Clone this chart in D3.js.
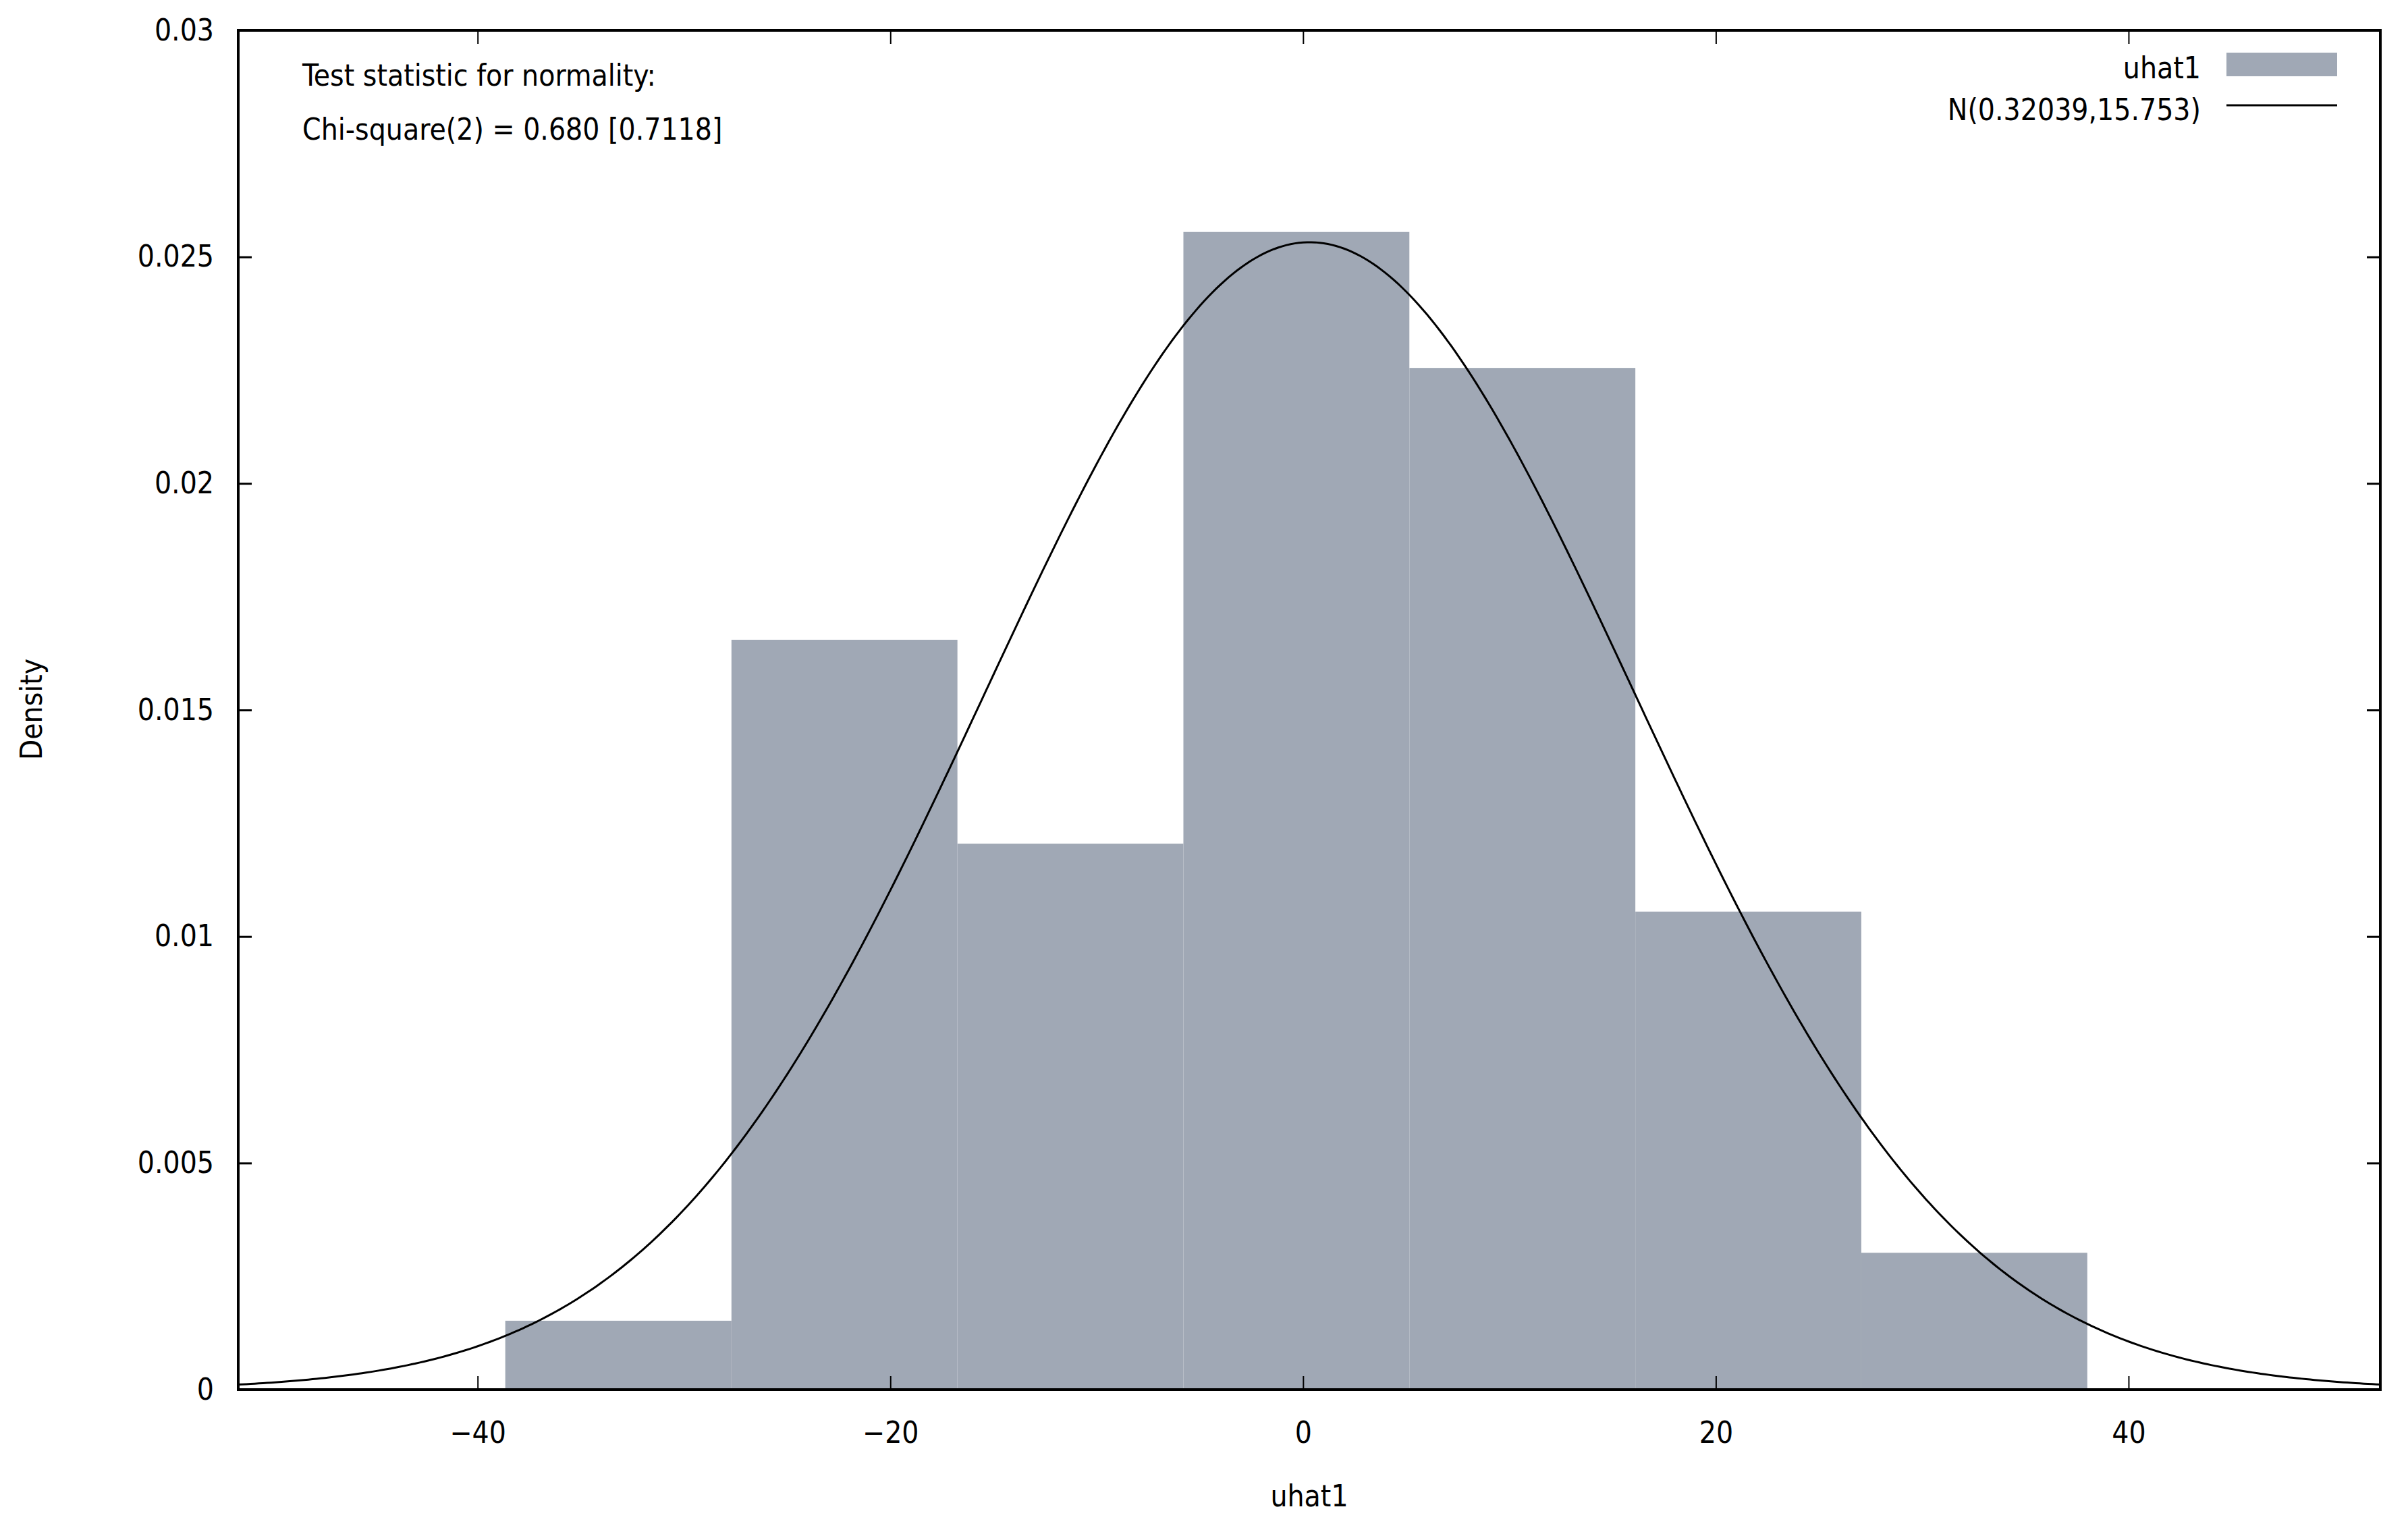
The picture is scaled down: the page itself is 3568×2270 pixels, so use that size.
<!DOCTYPE html>
<html><head><meta charset="utf-8">
<script src="https://cdn.jsdelivr.net/npm/d3@7"></script>
<style>body{margin:0;background:#fff}text{font-family:"DejaVu Sans Condensed","DejaVu Sans",sans-serif;font-stretch:condensed}</style>
</head><body><svg id="c" width="3568" height="2270"></svg>
<script>
const binEdges = [-38.66, -27.7, -16.75, -5.8, 5.15, 16.1, 27.05, 38.0];
const binDensity = [0.00152, 0.01655, 0.01205, 0.02555, 0.02255, 0.01055, 0.00302];
const normMean = 0.32039, normSd = 15.753;
const xTicks = [-40, -20, 0, 20, 40];
const yTicks = [0, 0.005, 0.01, 0.015, 0.02, 0.025, 0.03];
const yTickLabels = ["0", "0.005", "0.01", "0.015", "0.02", "0.025", "0.03"];

const svg = d3.select("#c");
const L = 353, R = 3527, T = 45, B = 2059;
const x = d3.scaleLinear().domain([-51.6, 52.2]).range([L, R]);
const y = d3.scaleLinear().domain([0, 0.03]).range([B, T]);
const fs = 44;

const bins = binDensity.map((d, i) => ({x0: binEdges[i], x1: binEdges[i+1], d}));
svg.append("g").selectAll("rect").data(bins).join("rect")
  .attr("x", d => x(d.x0)).attr("width", d => x(d.x1) - x(d.x0))
  .attr("y", d => y(d.d)).attr("height", d => y(0) - y(d.d))
  .attr("fill", "#a0a8b5");

const xs = d3.range(-51.6, 52.21, 0.2);
const pdf = v => Math.exp(-0.5 * ((v - normMean) / normSd) ** 2) / (normSd * Math.sqrt(2 * Math.PI));
svg.append("path").datum(xs).attr("fill", "none").attr("stroke", "#000").attr("stroke-width", 3)
  .attr("d", d3.line().x(d => x(d)).y(d => y(pdf(d))));

// axes
const tl = 20;
svg.append("g").attr("transform", `translate(0,${B})`).call(d3.axisBottom(x).tickValues(xTicks).tickSize(-tl).tickPadding(48).tickFormat(d3.format("d")))
  .call(g => { g.select(".domain").remove(); g.selectAll("line").attr("stroke-width", 2); g.selectAll("text").attr("font-size", fs).attr("fill", "#000"); });
svg.append("g").attr("transform", `translate(0,${T})`).call(d3.axisTop(x).tickValues(xTicks).tickSize(-tl).tickFormat(""))
  .call(g => { g.select(".domain").remove(); g.selectAll("line").attr("stroke-width", 2); });
svg.append("g").attr("transform", `translate(${L},0)`).call(d3.axisLeft(y).tickValues(yTicks).tickSize(-tl).tickPadding(36).tickFormat((d, i) => yTickLabels[i]))
  .call(g => { g.select(".domain").remove(); g.selectAll("line").attr("stroke-width", 3); g.selectAll("text").attr("font-size", fs).attr("fill", "#000"); });
svg.append("g").attr("transform", `translate(${R},0)`).call(d3.axisRight(y).tickValues(yTicks).tickSize(-tl).tickFormat(""))
  .call(g => { g.select(".domain").remove(); g.selectAll("line").attr("stroke-width", 3); });
svg.append("rect").attr("x", L).attr("y", T).attr("width", R - L).attr("height", B - T)
  .attr("fill", "none").attr("stroke", "#000").attr("stroke-width", 4);

svg.append("text").attr("x", (L + R) / 2).attr("y", 2232).attr("text-anchor", "middle").attr("font-size", fs).text("uhat1");
svg.append("text").attr("transform", "translate(62,1051) rotate(-90)").attr("text-anchor", "middle").attr("font-size", fs).text("Density");

svg.append("text").attr("x", 448).attr("y", 127).attr("font-size", fs).text("Test statistic for normality:");
svg.append("text").attr("x", 448).attr("y", 207).attr("font-size", fs).text("Chi-square(2) = 0.680 [0.7118]");

// legend
svg.append("text").attr("x", 3261).attr("y", 116).attr("text-anchor", "end").attr("font-size", fs).text("uhat1");
svg.append("rect").attr("x", 3299).attr("y", 78).attr("width", 164).attr("height", 35).attr("fill", "#a0a8b5");
svg.append("text").attr("x", 3261).attr("y", 178).attr("text-anchor", "end").attr("font-size", fs).text("N(0.32039,15.753)");
svg.append("line").attr("x1", 3299).attr("x2", 3463).attr("y1", 156).attr("y2", 156).attr("stroke", "#000").attr("stroke-width", 3);
</script></body></html>
